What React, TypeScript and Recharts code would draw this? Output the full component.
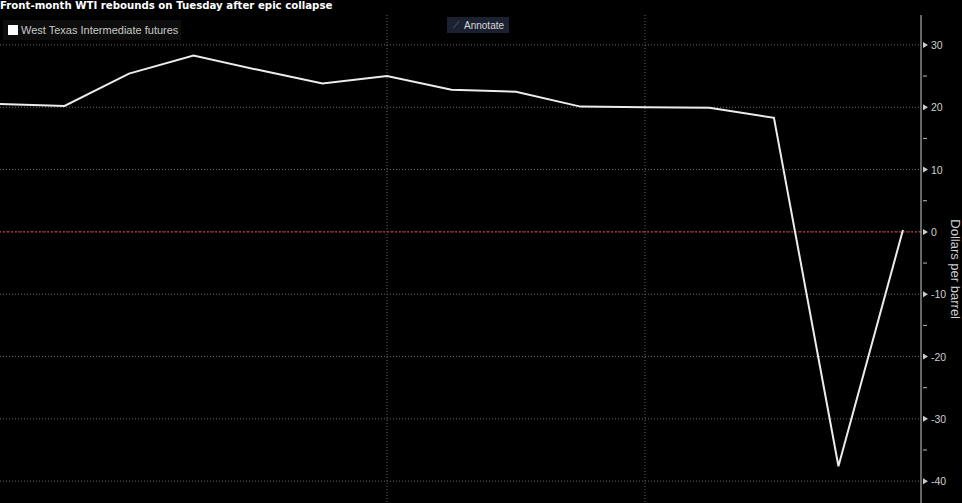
import { CartesianGrid, Label, Line, LineChart, ReferenceLine, XAxis, YAxis } from 'recharts';

const dates = [
  '2020-03-31', '2020-04-01', '2020-04-02', '2020-04-03', '2020-04-06',
  '2020-04-07', '2020-04-08', '2020-04-09', '2020-04-13', '2020-04-14',
  '2020-04-15', '2020-04-16', '2020-04-17', '2020-04-20', '2020-04-21',
];
const prices = [20.5, 20.2, 25.4, 28.3, 26.0, 23.8, 25.0, 22.8, 22.5, 20.1, 20.0, 19.9, 18.3, -37.6, 0.3];
const majorTicks = [-40, -30, -20, -10, 0, 10, 20, 30];
const allTicks = [-40, -35, -30, -25, -20, -15, -10, -5, 0, 5, 10, 15, 20, 25, 30];
const gridX = [6, 10];

const data = dates.map((d, i) => ({ i, date: d, price: prices[i] }));

const AxisTick = (props: any) => {
  const { x, y, payload } = props;
  const v = payload.value;
  if (v % 10 !== 0) {
    return <line x1={x - 6} x2={x - 2} y1={y} y2={y} stroke="#bbb" strokeWidth={1} />;
  }
  return (
    <g>
      <path d={`M${x - 6},${y - 3} L${x - 1},${y} L${x - 6},${y + 3} Z`} fill="#ccc" />
      <text x={x + 2} y={y + 4} fill="#cfcfcf" fontSize={10.5} fontFamily="'Liberation Sans', sans-serif">
        {v}
      </text>
    </g>
  );
};

const App = () => (
  <div style={{ position: 'absolute', left: 0, top: 0, width: 962, height: 503, background: '#000', overflow: 'hidden', fontFamily: "'Liberation Sans', sans-serif" }}>
    <LineChart width={962} height={503} data={data} margin={{ top: 15, right: 0, left: 0, bottom: 0 }}>
      <CartesianGrid
        stroke="#666"
        strokeDasharray="1 2"
        horizontalValues={majorTicks}
        verticalValues={gridX}
      />
      <XAxis dataKey="i" type="number" domain={[0, 14.28]} hide allowDataOverflow />
      <YAxis
        orientation="right"
        width={41}
        domain={[-43.5, 34.8]}
        ticks={allTicks}
        interval={0}
        allowDataOverflow
        axisLine={{ stroke: '#ccc' }}
        tickLine={false}
        tick={<AxisTick />}
      >
        <Label
          value="Dollars per barrel"
          angle={90}
          position="insideRight"
          offset={0}
          dy={60}
          dx={-6}
          fill="#cfcfcf"
          fontSize={13}
        />
      </YAxis>
      <ReferenceLine y={0} stroke="#c0303a" strokeDasharray="2 2" strokeWidth={1.2} />
      <Line
        type="linear"
        dataKey="price"
        stroke="#ececec"
        strokeWidth={2}
        dot={false}
        isAnimationActive={false}
      />
    </LineChart>
    <div style={{ position: 'absolute', left: 0, top: 0, lineHeight: '12px', color: '#fff', fontWeight: 'bold', fontSize: 10.2, whiteSpace: 'nowrap', fontFamily: "'DejaVu Sans', sans-serif" }}>
      Front-month WTI rebounds on Tuesday after epic collapse
    </div>
    <div style={{ position: 'absolute', left: 3, top: 20, width: 178, height: 20, background: '#0d0d0d', display: 'flex', alignItems: 'center' }}>
      <div style={{ width: 10, height: 10, background: '#fff', marginLeft: 5, marginRight: 3 }} />
      <span style={{ color: '#c8c8c8', fontSize: 11, whiteSpace: 'nowrap' }}>West Texas Intermediate futures</span>
    </div>
    <div style={{ position: 'absolute', left: 447, top: 17, width: 62, height: 16, background: '#1b2130', display: 'flex', alignItems: 'center', color: '#d8d8d8', fontSize: 10 }}>
      <span style={{ color: '#777', marginLeft: 6, marginRight: 5, fontSize: 9 }}>⟋</span>Annotate
    </div>
  </div>
);

export default App;
